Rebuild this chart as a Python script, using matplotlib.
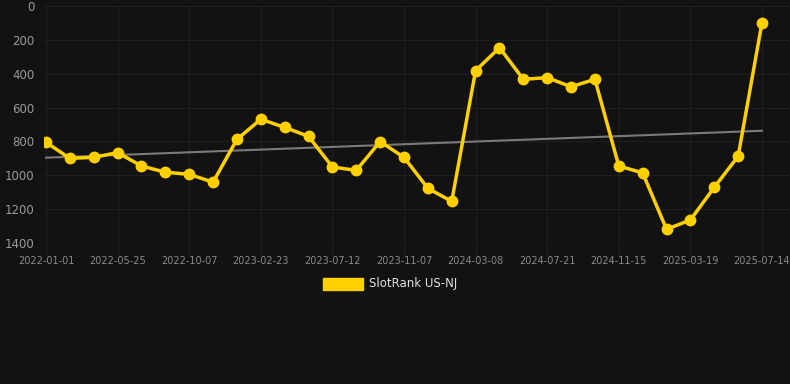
import matplotlib
matplotlib.use("Agg")
import matplotlib.pyplot as plt
import numpy as np

# rank values (lower is better, axis is inverted)
ranks = [805, 900, 894, 866, 945, 982, 994, 1041, 788, 669,
         717, 770, 951, 971, 801, 894, 1077, 1154, 382, 246,
         433, 423, 477, 433, 945, 986, 1319, 1264, 1071, 888, 98]
tick_labels = ["2022-01-01", "2022-05-25", "2022-10-07", "2023-02-23",
               "2023-07-12", "2023-11-07", "2024-03-08", "2024-07-21",
               "2024-11-15", "2025-03-19", "2025-07-14"]
trend_ends = [896, 737]
series_name = "SlotRank US-NJ"

BG = "#121212"
GRID = "#1f1f1f"
YELLOW = "#FFD000"

fig = plt.figure(figsize=(7.9, 3.84), dpi=100, facecolor=BG)
W, H = 790, 384
ax = fig.add_axes([44 / W, 1 - 243 / H, (790 - 44) / W, (243 - 6) / H])
ax.set_facecolor(BG)

x = np.arange(len(ranks))
ax.plot([x[0], x[-1]], trend_ends, color="#7a7a7a", lw=1.5, zorder=2)
ax.plot(x, ranks, color=YELLOW, lw=2.5, marker="o", ms=7.5, zorder=3)

px = (762 - 46) / 30
ax.set_xlim(-2 / px, 30 + 28 / px)
ax.set_ylim(1400, 0)

ax.set_xticks(x[::3])
ax.set_xticklabels(tick_labels)
ax.set_yticks(range(0, 1401, 200))
ax.grid(True, color=GRID, lw=0.8)
ax.set_axisbelow(True)
for s in ax.spines.values():
    s.set_visible(False)
ax.tick_params(axis="x", colors=GRID, length=9, width=0.8, labelcolor="#8a8a8a",
               labelsize=7, pad=0)
ax.tick_params(axis="y", length=0, labelcolor="#9a9a9a", labelsize=8.5, pad=7)

# legend below the plot
fig.patches.append(plt.Rectangle((323 / W, 1 - 290 / H), 40 / W, 12 / H,
                                 transform=fig.transFigure, color=YELLOW))
fig.text(369 / W, 1 - 284 / H, series_name, color="#e0e0e0", fontsize=8.5,
         va="center", ha="left")

fig.savefig("out.png", dpi=100, facecolor=BG)
